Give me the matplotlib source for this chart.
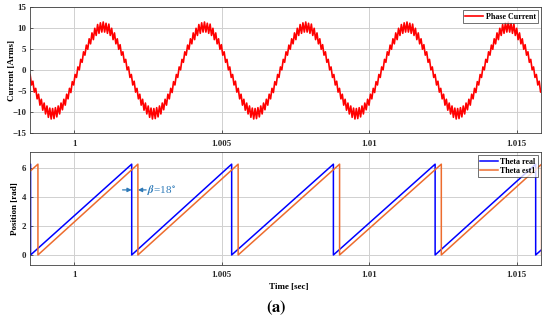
import numpy as np
import matplotlib
matplotlib.use("Agg")
import matplotlib.pyplot as plt

# ---- data ----
# one electrical period of the phase current (72 samples, starting at a positive peak), Arms
current_period = [11.5, 9.1, 11.2, 8.8, 11.0, 8.3, 10.0, 7.3, 8.9, 6.3, 7.5, 5.0,
                  6.1, 3.6, 4.4, 1.9, 2.6, 0.1, 0.8, -1.7, -1.0, -3.5, -2.6, -5.2,
                  -4.3, -6.8, -5.7, -8.3, -6.9, -9.5, -7.8, -10.4, -8.5, -11.2, -9.0, -11.6,
                  -9.1, -11.5, -8.9, -11.1, -8.5, -10.4, -7.8, -9.4, -6.9, -8.3, -5.7, -6.8,
                  -4.3, -5.3, -2.7, -3.5, -1.0, -1.7, 0.8, 0.1, 2.6, 1.9, 4.4, 3.6,
                  6.0, 5.0, 7.5, 6.3, 8.9, 7.3, 10.0, 8.3, 10.9, 8.8, 11.3, 9.1]
current_first_peak = 0.99755   # sec
elec_period = 0.003434         # sec
n_periods = 6

theta_max = 6.28
# reset instants (sec) where theta falls from 2*pi to 0
real_resets = [0.99852, 1.00195, 1.00534, 1.00879, 1.01224, 1.01565]
est_resets = [0.99877, 1.00216, 1.00556, 1.00900, 1.01245, 1.01585]

t_start, t_end = 0.9985, 1.01583
x_ticks = [1, 1.005, 1.01, 1.015]
x_ticklabels = ["1", "1.005", "1.01", "1.015"]
cur_ticks = [-15, -10, -5, 0, 5, 10, 15]
pos_ticks = [0, 2, 4, 6]


def sawtooth(resets, t0, t1, period):
    # piecewise linear ramp 0 -> theta_max between consecutive resets
    ts, ys = [], []
    prev = resets[0] - period
    ts.append(t0)
    ys.append(theta_max * (t0 - prev) / period)
    for r in resets:
        ts += [r, r]
        ys += [theta_max, 0]
    ts.append(t1 + 0.0005)
    ys.append(theta_max * (t1 + 0.0005 - resets[-1]) / period)
    return ts, ys


plt.rcParams['font.family'] = ['Liberation Serif', 'DejaVu Serif']
plt.rcParams['font.weight'] = 'bold'
plt.rcParams['mathtext.fontset'] = 'stix'

fig = plt.figure(figsize=(5.5, 3.27), dpi=100)
ax1 = fig.add_axes([0.0545, 0.5924, 0.9291, 0.3853])
ax2 = fig.add_axes([0.0545, 0.1911, 0.9291, 0.3431])

# current
cur = np.tile(current_period, n_periods)
t_cur = current_first_peak + np.arange(len(cur)) * elec_period / len(current_period)
ax1.plot(t_cur, cur, color='#ff0000', lw=1.2, label='Phase Current')
ax1.set_ylim(-15, 15)
ax1.set_yticks(cur_ticks)
ax1.set_ylabel('Current [Arms]', fontsize=6.5, fontweight='bold')
ax1.yaxis.set_label_coords(-0.028, 0.5)

# position
tr, yr = sawtooth(real_resets, t_start, t_end, elec_period)
te, ye = sawtooth(est_resets, t_start, t_end, elec_period)
ax2.plot(tr, yr, color='#0000ff', lw=1.1, label='Theta real')
ax2.plot(te, ye, color='#ed6c2e', lw=1.1, label='Theta est1')
ax2.set_ylim(-0.66, 7.1)
ax2.set_yticks(pos_ticks)
ax2.set_ylabel('Position [rad]', fontsize=6.5, fontweight='bold')
ax2.yaxis.set_label_coords(-0.021, 0.5)
ax2.set_xlabel('Time [sec]', fontsize=6.5, fontweight='bold')
ax2.xaxis.set_label_coords(0.506, -0.165)

# beta annotation
ann_c = '#2e7ab8'
ax2.annotate('', xy=(real_resets[1], 4.5), xytext=(real_resets[1] - 0.00031, 4.5),
             arrowprops=dict(arrowstyle='-|>', color=ann_c, lw=0.9, mutation_scale=6,
                             shrinkA=0, shrinkB=0))
ax2.annotate('', xy=(est_resets[1], 4.5), xytext=(est_resets[1] + 0.00028, 4.5),
             arrowprops=dict(arrowstyle='-|>', color=ann_c, lw=0.9, mutation_scale=6,
                             shrinkA=0, shrinkB=0))
ax2.text(est_resets[1] + 0.0003, 4.5, r'$\beta$=18$^{\circ}$', color=ann_c,
         fontsize=8, fontweight='normal', va='center', ha='left')

for ax in (ax1, ax2):
    ax.set_xlim(t_start, t_end)
    ax.set_xticks(x_ticks)
    ax.set_xticklabels(x_ticklabels)
    ax.grid(True, color='#d0d0d0', lw=0.7)
    ax.set_axisbelow(True)
    ax.tick_params(direction='in', length=2, width=0.5, labelsize=6.4, pad=2.5,
                   colors='#262626')
    ax.tick_params(axis='x', pad=4.5)
    for lab in ax.get_xticklabels() + ax.get_yticklabels():
        lab.set_fontweight('bold')
    for s in ax.spines.values():
        s.set_color('#404040')
        s.set_linewidth(0.6)
    leg = ax.legend(loc='upper right', fontsize=5.8, frameon=True, fancybox=False,
                    handlelength=2.2, handletextpad=0.3, borderpad=0.3,
                    labelspacing=0.15, borderaxespad=0.35)
    leg.get_frame().set_edgecolor('#303030')
    leg.get_frame().set_linewidth(0.6)
    for txt in leg.get_texts():
        txt.set_fontweight('bold')

fig.text(0.502, 0.058, r'$\mathrm{(}\mathbf{a}\mathrm{)}$', fontsize=12, ha='center', va='center')

fig.savefig('out.png', dpi=100)
